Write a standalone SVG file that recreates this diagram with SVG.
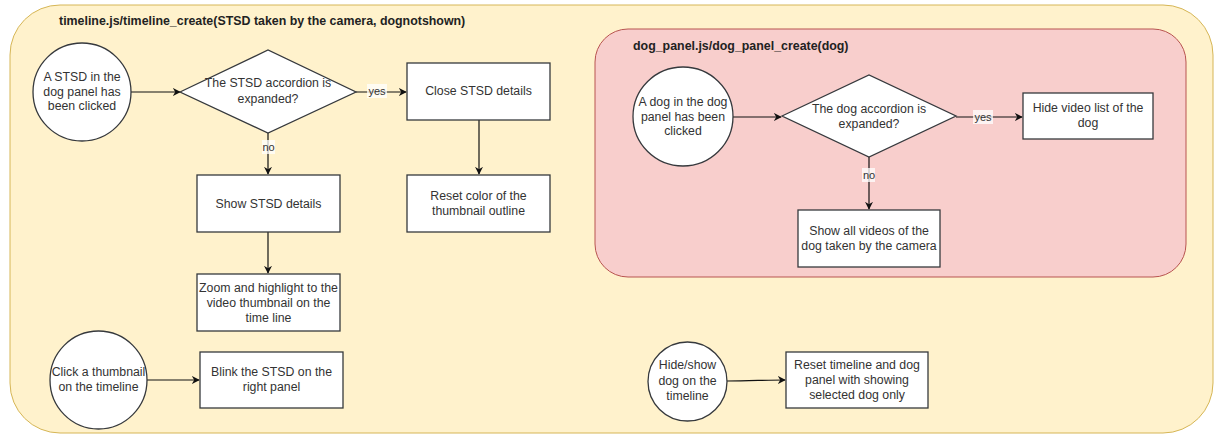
<svg xmlns="http://www.w3.org/2000/svg" width="1221" height="436" viewBox="0 0 1221 436">
  <defs>
    <marker id="arrow" viewBox="0 0 10 10" refX="9" refY="5" markerWidth="8" markerHeight="8" markerUnits="userSpaceOnUse" orient="auto">
      <path d="M0,0 L10,5 L0,10 L3,5 Z" fill="#111"/>
    </marker>
    <style>
      .outer { fill: #fff2cc; stroke: #d6b656; stroke-width: 1; }
      .inner { fill: #f8cecc; stroke: #b85450; stroke-width: 1; }
      .shape { fill: #ffffff; stroke: #36393d; stroke-width: 1.3; }
      .t { font-family: "Liberation Sans", Arial, sans-serif; font-size: 12.3px; fill: #333333; text-anchor: middle; dominant-baseline: central; }
      .title { font-family: "Liberation Sans", Arial, sans-serif; font-size: 12.4px; font-weight: bold; fill: #222222; }
      .edge { fill: none; stroke: #111; stroke-width: 1.2; marker-end: url(#arrow); }
      .lblbg { fill: #ffffff; fill-opacity: 0.75; }
      .lbl { font-family: "Liberation Sans", Arial, sans-serif; font-size: 11px; fill: #333333; text-anchor: middle; dominant-baseline: central; }
    </style>
  </defs>

  <!-- containers -->
  <g id="timeline-container">
    <rect class="outer" x="10" y="5" width="1203" height="428" rx="50" ry="50"/>
    <text class="title" x="59" y="25">timeline.js/timeline_create(STSD taken by the camera, dognotshown)</text>
  </g>
  <g id="dog-panel-container">
    <rect class="inner" x="595" y="29" width="591" height="248" rx="33" ry="33"/>
    <text class="title" x="633" y="50">dog_panel.js/dog_panel_create(dog)</text>
  </g>

  <!-- connectors -->
  <g id="connectors">
    <path class="edge" d="M131,92 L180,92"/>
    <path class="edge" d="M356,92 L406,92"/>
    <path class="edge" d="M268,133 L268,174"/>
    <path class="edge" d="M479,120 L479,174"/>
    <path class="edge" d="M268,232 L268,273"/>
    <path class="edge" d="M147,380 L199,380"/>
    <path class="edge" d="M733,117 L781,117"/>
    <path class="edge" d="M956,117 L1022,117"/>
    <path class="edge" d="M869,157 L869,209"/>
    <path class="edge" d="M727,381 C750,381 765,380 785,380"/>
    <rect class="lblbg" x="367" y="84" width="20" height="14"/>
    <text class="lbl" x="377" y="91">yes</text>
    <rect class="lblbg" x="262" y="140" width="13" height="14"/>
    <text class="lbl" x="268.5" y="147">no</text>
    <rect class="lblbg" x="973" y="110" width="20" height="14"/>
    <text class="lbl" x="983" y="117">yes</text>
    <rect class="lblbg" x="862" y="168" width="13" height="14"/>
    <text class="lbl" x="869" y="175">no</text>
  </g>

  <!-- timeline flow -->
  <g id="stsd-clicked">
    <ellipse class="shape" cx="82" cy="92" rx="49" ry="49"/>
    <text class="t" x="82" y="77">A STSD in the</text>
    <text class="t" x="82" y="91.5">dog panel has</text>
    <text class="t" x="82" y="106">been clicked</text>
  </g>
  <g id="stsd-expanded">
    <polygon class="shape" points="180,92 268,50 356,92 268,133"/>
    <text class="t" x="268" y="83">The STSD accordion is</text>
    <text class="t" x="268" y="99">expanded?</text>
  </g>
  <g id="close-details">
    <rect class="shape" x="407" y="63" width="143" height="57"/>
    <text class="t" x="478.5" y="91">Close STSD details</text>
  </g>
  <g id="reset-color">
    <rect class="shape" x="407" y="175" width="143" height="57"/>
    <text class="t" x="478.5" y="196">Reset color of the</text>
    <text class="t" x="478.5" y="211">thumbnail outline</text>
  </g>
  <g id="show-details">
    <rect class="shape" x="197" y="175" width="143" height="57"/>
    <text class="t" x="268.5" y="204">Show STSD details</text>
  </g>
  <g id="zoom-highlight">
    <rect class="shape" x="197" y="274" width="143" height="57"/>
    <text class="t" x="268.5" y="288">Zoom and highlight to the</text>
    <text class="t" x="268.5" y="303">video thumbnail on the</text>
    <text class="t" x="268.5" y="318">time line</text>
  </g>
  <g id="click-thumbnail">
    <ellipse class="shape" cx="98.5" cy="380" rx="48.5" ry="49"/>
    <text class="t" x="98.5" y="372">Click a thumbnail</text>
    <text class="t" x="98.5" y="387">on the timeline</text>
  </g>
  <g id="blink-stsd">
    <rect class="shape" x="200" y="352" width="143" height="56"/>
    <text class="t" x="271.5" y="372">Blink the STSD on the</text>
    <text class="t" x="271.5" y="387">right panel</text>
  </g>

  <!-- dog panel flow -->
  <g id="dog-clicked">
    <ellipse class="shape" cx="683" cy="116.5" rx="50" ry="49.5"/>
    <text class="t" x="683" y="102">A dog in the dog</text>
    <text class="t" x="683" y="117">panel has been</text>
    <text class="t" x="683" y="131">clicked</text>
  </g>
  <g id="dog-expanded">
    <polygon class="shape" points="782,116 869,75 956,116 869,157"/>
    <text class="t" x="869" y="109">The dog accordion is</text>
    <text class="t" x="869" y="124">expanded?</text>
  </g>
  <g id="hide-video-list">
    <rect class="shape" x="1023" y="93" width="130" height="46"/>
    <text class="t" x="1088" y="108">Hide video list of the</text>
    <text class="t" x="1088" y="123">dog</text>
  </g>
  <g id="show-all-videos">
    <rect class="shape" x="798" y="210" width="142" height="57"/>
    <text class="t" x="869" y="231">Show all videos of the</text>
    <text class="t" x="869" y="246">dog taken by the camera</text>
  </g>

  <!-- dog visibility toggle -->
  <g id="hide-show-dog">
    <ellipse class="shape" cx="687.5" cy="381.5" rx="39.5" ry="39.5"/>
    <text class="t" x="687.5" y="365">Hide/show</text>
    <text class="t" x="687.5" y="381">dog on the</text>
    <text class="t" x="687.5" y="396">timeline</text>
  </g>
  <g id="reset-timeline">
    <rect class="shape" x="786" y="352" width="142" height="56"/>
    <text class="t" x="857" y="365">Reset timeline and dog</text>
    <text class="t" x="857" y="380">panel with showing</text>
    <text class="t" x="857" y="395">selected dog only</text>
  </g>
</svg>
